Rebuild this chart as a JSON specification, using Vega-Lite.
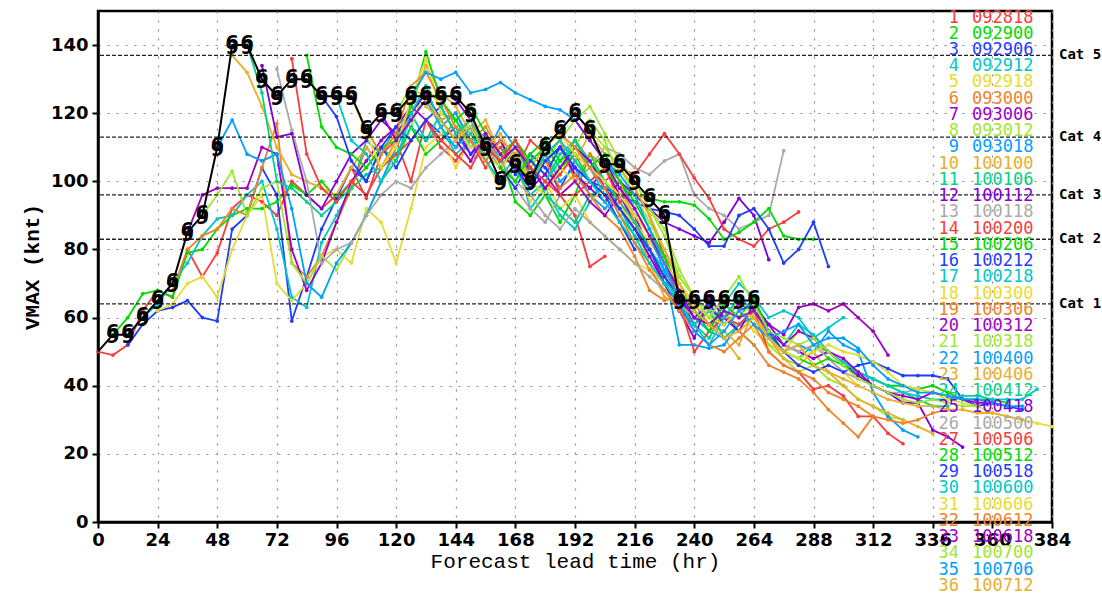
{
  "$schema": "https://vega.github.io/schema/vega-lite/v6.json",
  "width": 954,
  "height": 511,
  "autosize": {"type": "none"},
  "padding": {"left": 98, "top": 11, "right": 50, "bottom": 74},
  "background": "white",
  "config": {
    "view": {"stroke": "black", "strokeWidth": 2.5},
    "axis": {
      "domainColor": "black", "domainWidth": 2.5,
      "tickColor": "black", "tickWidth": 2, "tickSize": 6,
      "labelFont": "DejaVu Sans", "labelFontWeight": "bold", "labelFontSize": 18, "labelColor": "black",
      "grid": true, "gridColor": "#8a8a8a", "gridDash": [2, 7], "gridWidth": 1.2,
      "titleColor": "black", "titleFont": "Liberation Mono", "titleFontSize": 21
    }
  },
  "datasets": {
    "best": [
      {"t":0,"v":50},{"t":6,"v":55},{"t":12,"v":55},{"t":18,"v":60},{"t":24,"v":65},{"t":30,"v":70},{"t":36,"v":85},{"t":42,"v":90},{"t":48,"v":110},{"t":54,"v":140},{"t":60,"v":140},{"t":66,"v":130},{"t":72,"v":125},{"t":78,"v":130},{"t":84,"v":130},{"t":90,"v":125},{"t":96,"v":125},{"t":102,"v":125},{"t":108,"v":115},{"t":114,"v":120},{"t":120,"v":120},{"t":126,"v":125},{"t":132,"v":125},{"t":138,"v":125},{"t":144,"v":125},{"t":150,"v":120},{"t":156,"v":110},{"t":162,"v":100},{"t":168,"v":105},{"t":174,"v":100},{"t":180,"v":110},{"t":186,"v":115},{"t":192,"v":120},{"t":198,"v":115},{"t":204,"v":105},{"t":210,"v":105},{"t":216,"v":100},{"t":222,"v":95},{"t":228,"v":90},{"t":234,"v":65},{"t":240,"v":65},{"t":246,"v":65},{"t":252,"v":65},{"t":258,"v":65},{"t":264,"v":65}
    ],
    "cats": [
      {"c":"Cat 1","v":64},{"c":"Cat 2","v":83},{"c":"Cat 3","v":96},{"c":"Cat 4","v":113},{"c":"Cat 5","v":137}
    ],
    "members": [
      {"r":1,"d":"092818"},{"r":2,"d":"092900"},{"r":3,"d":"092906"},{"r":4,"d":"092912"},{"r":5,"d":"092918"},{"r":6,"d":"093000"},{"r":7,"d":"093006"},{"r":8,"d":"093012"},{"r":9,"d":"093018"},{"r":10,"d":"100100"},{"r":11,"d":"100106"},{"r":12,"d":"100112"},{"r":13,"d":"100118"},{"r":14,"d":"100200"},{"r":15,"d":"100206"},{"r":16,"d":"100212"},{"r":17,"d":"100218"},{"r":18,"d":"100300"},{"r":19,"d":"100306"},{"r":20,"d":"100312"},{"r":21,"d":"100318"},{"r":22,"d":"100400"},{"r":23,"d":"100406"},{"r":24,"d":"100412"},{"r":25,"d":"100418"},{"r":26,"d":"100500"},{"r":27,"d":"100506"},{"r":28,"d":"100512"},{"r":29,"d":"100518"},{"r":30,"d":"100600"},{"r":31,"d":"100606"},{"r":32,"d":"100612"},{"r":33,"d":"100618"},{"r":34,"d":"100700"},{"r":35,"d":"100706"},{"r":36,"d":"100712"}
    ],
    "runs": [
      {"r":1,"t":0,"v":50},{"r":1,"t":6,"v":49},{"r":1,"t":12,"v":52},{"r":1,"t":18,"v":62},{"r":1,"t":24,"v":68},{"r":1,"t":30,"v":66},{"r":1,"t":36,"v":80},{"r":1,"t":42,"v":72},{"r":1,"t":48,"v":79},{"r":1,"t":54,"v":92},{"r":1,"t":60,"v":96},{"r":1,"t":66,"v":94},{"r":1,"t":72,"v":90},{"r":1,"t":78,"v":100},{"r":1,"t":84,"v":96},{"r":1,"t":90,"v":92},{"r":1,"t":96,"v":96},{"r":1,"t":102,"v":104},{"r":1,"t":108,"v":95},{"r":1,"t":114,"v":108},{"r":1,"t":120,"v":112},{"r":1,"t":126,"v":100},{"r":1,"t":132,"v":118},{"r":1,"t":138,"v":110},{"r":1,"t":144,"v":106},{"r":1,"t":150,"v":112},{"r":1,"t":156,"v":104},{"r":1,"t":162,"v":110},{"r":1,"t":168,"v":103},{"r":1,"t":174,"v":112},{"r":1,"t":180,"v":108},{"r":1,"t":186,"v":96},{"r":1,"t":192,"v":90},{"r":1,"t":198,"v":75},{"r":1,"t":204,"v":78},
      {"r":2,"t":6,"v":55},{"r":2,"t":12,"v":60},{"r":2,"t":18,"v":67},{"r":2,"t":24,"v":68},{"r":2,"t":30,"v":66},{"r":2,"t":36,"v":79},{"r":2,"t":42,"v":80},{"r":2,"t":48,"v":86},{"r":2,"t":54,"v":90},{"r":2,"t":60,"v":92},{"r":2,"t":66,"v":92},{"r":2,"t":72,"v":94},{"r":2,"t":78,"v":99},{"r":2,"t":84,"v":96},{"r":2,"t":90,"v":100},{"r":2,"t":96,"v":95},{"r":2,"t":102,"v":100},{"r":2,"t":108,"v":104},{"r":2,"t":114,"v":110},{"r":2,"t":120,"v":106},{"r":2,"t":126,"v":116},{"r":2,"t":132,"v":108},{"r":2,"t":138,"v":112},{"r":2,"t":144,"v":118},{"r":2,"t":150,"v":112},{"r":2,"t":156,"v":114},{"r":2,"t":162,"v":108},{"r":2,"t":168,"v":94},{"r":2,"t":174,"v":90},{"r":2,"t":180,"v":96},{"r":2,"t":186,"v":88},{"r":2,"t":192,"v":96},{"r":2,"t":198,"v":108},{"r":2,"t":204,"v":100},{"r":2,"t":210,"v":92},
      {"r":3,"t":12,"v":52},{"r":3,"t":18,"v":58},{"r":3,"t":24,"v":62},{"r":3,"t":30,"v":63},{"r":3,"t":36,"v":65},{"r":3,"t":42,"v":60},{"r":3,"t":48,"v":59},{"r":3,"t":54,"v":86},{"r":3,"t":60,"v":90},{"r":3,"t":66,"v":104},{"r":3,"t":72,"v":96},{"r":3,"t":78,"v":59},{"r":3,"t":84,"v":72},{"r":3,"t":90,"v":86},{"r":3,"t":96,"v":95},{"r":3,"t":102,"v":104},{"r":3,"t":108,"v":100},{"r":3,"t":114,"v":110},{"r":3,"t":120,"v":104},{"r":3,"t":126,"v":112},{"r":3,"t":132,"v":118},{"r":3,"t":138,"v":114},{"r":3,"t":144,"v":110},{"r":3,"t":150,"v":116},{"r":3,"t":156,"v":106},{"r":3,"t":162,"v":112},{"r":3,"t":168,"v":102},{"r":3,"t":174,"v":108},{"r":3,"t":180,"v":104},{"r":3,"t":186,"v":98},{"r":3,"t":192,"v":106},{"r":3,"t":198,"v":100},{"r":3,"t":204,"v":96},{"r":3,"t":210,"v":88},{"r":3,"t":216,"v":80},
      {"r":4,"t":18,"v":60},{"r":4,"t":24,"v":64},{"r":4,"t":30,"v":70},{"r":4,"t":36,"v":76},{"r":4,"t":42,"v":84},{"r":4,"t":48,"v":89},{"r":4,"t":54,"v":90},{"r":4,"t":60,"v":96},{"r":4,"t":66,"v":100},{"r":4,"t":72,"v":86},{"r":4,"t":78,"v":66},{"r":4,"t":84,"v":63},{"r":4,"t":90,"v":82},{"r":4,"t":96,"v":90},{"r":4,"t":102,"v":98},{"r":4,"t":108,"v":112},{"r":4,"t":114,"v":108},{"r":4,"t":120,"v":116},{"r":4,"t":126,"v":120},{"r":4,"t":132,"v":112},{"r":4,"t":138,"v":116},{"r":4,"t":144,"v":108},{"r":4,"t":150,"v":112},{"r":4,"t":156,"v":106},{"r":4,"t":162,"v":100},{"r":4,"t":168,"v":108},{"r":4,"t":174,"v":92},{"r":4,"t":180,"v":98},{"r":4,"t":186,"v":90},{"r":4,"t":192,"v":86},{"r":4,"t":198,"v":94},{"r":4,"t":204,"v":100},{"r":4,"t":210,"v":92},{"r":4,"t":216,"v":86},{"r":4,"t":222,"v":82},
      {"r":5,"t":24,"v":62},{"r":5,"t":30,"v":64},{"r":5,"t":36,"v":70},{"r":5,"t":42,"v":72},{"r":5,"t":48,"v":66},{"r":5,"t":54,"v":80},{"r":5,"t":60,"v":90},{"r":5,"t":66,"v":96},{"r":5,"t":72,"v":70},{"r":5,"t":78,"v":65},{"r":5,"t":84,"v":70},{"r":5,"t":90,"v":78},{"r":5,"t":96,"v":80},{"r":5,"t":102,"v":76},{"r":5,"t":108,"v":92},{"r":5,"t":114,"v":88},{"r":5,"t":120,"v":76},{"r":5,"t":126,"v":92},{"r":5,"t":132,"v":110},{"r":5,"t":138,"v":114},{"r":5,"t":144,"v":104},{"r":5,"t":150,"v":112},{"r":5,"t":156,"v":106},{"r":5,"t":162,"v":98},{"r":5,"t":168,"v":104},{"r":5,"t":174,"v":94},{"r":5,"t":180,"v":100},{"r":5,"t":186,"v":92},{"r":5,"t":192,"v":96},{"r":5,"t":198,"v":88},{"r":5,"t":204,"v":84},{"r":5,"t":210,"v":80},{"r":5,"t":216,"v":76},{"r":5,"t":222,"v":74},{"r":5,"t":228,"v":70},
      {"r":6,"t":30,"v":68},{"r":6,"t":36,"v":80},{"r":6,"t":42,"v":84},{"r":6,"t":48,"v":86},{"r":6,"t":54,"v":92},{"r":6,"t":60,"v":90},{"r":6,"t":66,"v":104},{"r":6,"t":72,"v":117},{"r":6,"t":78,"v":76},{"r":6,"t":84,"v":72},{"r":6,"t":90,"v":78},{"r":6,"t":96,"v":88},{"r":6,"t":102,"v":98},{"r":6,"t":108,"v":110},{"r":6,"t":114,"v":104},{"r":6,"t":120,"v":112},{"r":6,"t":126,"v":120},{"r":6,"t":132,"v":126},{"r":6,"t":138,"v":118},{"r":6,"t":144,"v":120},{"r":6,"t":150,"v":112},{"r":6,"t":156,"v":116},{"r":6,"t":162,"v":108},{"r":6,"t":168,"v":112},{"r":6,"t":174,"v":102},{"r":6,"t":180,"v":108},{"r":6,"t":186,"v":112},{"r":6,"t":192,"v":100},{"r":6,"t":198,"v":108},{"r":6,"t":204,"v":104},{"r":6,"t":210,"v":98},{"r":6,"t":216,"v":90},{"r":6,"t":222,"v":84},{"r":6,"t":228,"v":78},{"r":6,"t":234,"v":72},
      {"r":7,"t":36,"v":85},{"r":7,"t":42,"v":96},{"r":7,"t":48,"v":98},{"r":7,"t":54,"v":98},{"r":7,"t":60,"v":98},{"r":7,"t":66,"v":110},{"r":7,"t":72,"v":108},{"r":7,"t":78,"v":80},{"r":7,"t":84,"v":68},{"r":7,"t":90,"v":76},{"r":7,"t":96,"v":88},{"r":7,"t":102,"v":100},{"r":7,"t":108,"v":106},{"r":7,"t":114,"v":112},{"r":7,"t":120,"v":116},{"r":7,"t":126,"v":122},{"r":7,"t":132,"v":118},{"r":7,"t":138,"v":112},{"r":7,"t":144,"v":116},{"r":7,"t":150,"v":108},{"r":7,"t":156,"v":114},{"r":7,"t":162,"v":104},{"r":7,"t":168,"v":110},{"r":7,"t":174,"v":100},{"r":7,"t":180,"v":106},{"r":7,"t":186,"v":110},{"r":7,"t":192,"v":102},{"r":7,"t":198,"v":98},{"r":7,"t":204,"v":104},{"r":7,"t":210,"v":96},{"r":7,"t":216,"v":90},{"r":7,"t":222,"v":80},{"r":7,"t":228,"v":70},{"r":7,"t":234,"v":62},{"r":7,"t":240,"v":58},
      {"r":8,"t":42,"v":90},{"r":8,"t":48,"v":96},{"r":8,"t":54,"v":103},{"r":8,"t":60,"v":90},{"r":8,"t":66,"v":98},{"r":8,"t":72,"v":100},{"r":8,"t":78,"v":76},{"r":8,"t":84,"v":70},{"r":8,"t":90,"v":78},{"r":8,"t":96,"v":74},{"r":8,"t":102,"v":82},{"r":8,"t":108,"v":90},{"r":8,"t":114,"v":100},{"r":8,"t":120,"v":108},{"r":8,"t":126,"v":116},{"r":8,"t":132,"v":128},{"r":8,"t":138,"v":122},{"r":8,"t":144,"v":114},{"r":8,"t":150,"v":118},{"r":8,"t":156,"v":106},{"r":8,"t":162,"v":112},{"r":8,"t":168,"v":104},{"r":8,"t":174,"v":98},{"r":8,"t":180,"v":108},{"r":8,"t":186,"v":102},{"r":8,"t":192,"v":110},{"r":8,"t":198,"v":118},{"r":8,"t":204,"v":112},{"r":8,"t":210,"v":100},{"r":8,"t":216,"v":96},{"r":8,"t":222,"v":92},{"r":8,"t":228,"v":84},{"r":8,"t":234,"v":72},{"r":8,"t":240,"v":66},{"r":8,"t":246,"v":62},
      {"r":9,"t":48,"v":110},{"r":9,"t":54,"v":118},{"r":9,"t":60,"v":108},{"r":9,"t":66,"v":106},{"r":9,"t":72,"v":108},{"r":9,"t":78,"v":92},{"r":9,"t":84,"v":70},{"r":9,"t":90,"v":66},{"r":9,"t":96,"v":76},{"r":9,"t":102,"v":82},{"r":9,"t":108,"v":90},{"r":9,"t":114,"v":100},{"r":9,"t":120,"v":110},{"r":9,"t":126,"v":118},{"r":9,"t":132,"v":124},{"r":9,"t":138,"v":116},{"r":9,"t":144,"v":120},{"r":9,"t":150,"v":112},{"r":9,"t":156,"v":108},{"r":9,"t":162,"v":116},{"r":9,"t":168,"v":110},{"r":9,"t":174,"v":102},{"r":9,"t":180,"v":108},{"r":9,"t":186,"v":100},{"r":9,"t":192,"v":104},{"r":9,"t":198,"v":96},{"r":9,"t":204,"v":92},{"r":9,"t":210,"v":96},{"r":9,"t":216,"v":88},{"r":9,"t":222,"v":80},{"r":9,"t":228,"v":74},{"r":9,"t":234,"v":66},{"r":9,"t":240,"v":60},{"r":9,"t":246,"v":56},{"r":9,"t":252,"v":54},
      {"r":10,"t":54,"v":137},{"r":10,"t":60,"v":132},{"r":10,"t":66,"v":122},{"r":10,"t":72,"v":110},{"r":10,"t":78,"v":102},{"r":10,"t":84,"v":100},{"r":10,"t":90,"v":98},{"r":10,"t":96,"v":96},{"r":10,"t":102,"v":104},{"r":10,"t":108,"v":110},{"r":10,"t":114,"v":104},{"r":10,"t":120,"v":112},{"r":10,"t":126,"v":122},{"r":10,"t":132,"v":134},{"r":10,"t":138,"v":126},{"r":10,"t":144,"v":122},{"r":10,"t":150,"v":114},{"r":10,"t":156,"v":118},{"r":10,"t":162,"v":108},{"r":10,"t":168,"v":112},{"r":10,"t":174,"v":104},{"r":10,"t":180,"v":110},{"r":10,"t":186,"v":104},{"r":10,"t":192,"v":112},{"r":10,"t":198,"v":106},{"r":10,"t":204,"v":100},{"r":10,"t":210,"v":94},{"r":10,"t":216,"v":86},{"r":10,"t":222,"v":80},{"r":10,"t":228,"v":72},{"r":10,"t":234,"v":68},{"r":10,"t":240,"v":62},{"r":10,"t":246,"v":58},{"r":10,"t":252,"v":54},{"r":10,"t":258,"v":48},
      {"r":11,"t":60,"v":140},{"r":11,"t":66,"v":126},{"r":11,"t":72,"v":100},{"r":11,"t":78,"v":98},{"r":11,"t":84,"v":94},{"r":11,"t":90,"v":90},{"r":11,"t":96,"v":94},{"r":11,"t":102,"v":98},{"r":11,"t":108,"v":102},{"r":11,"t":114,"v":104},{"r":11,"t":120,"v":108},{"r":11,"t":126,"v":116},{"r":11,"t":132,"v":112},{"r":11,"t":138,"v":120},{"r":11,"t":144,"v":118},{"r":11,"t":150,"v":110},{"r":11,"t":156,"v":114},{"r":11,"t":162,"v":106},{"r":11,"t":168,"v":100},{"r":11,"t":174,"v":108},{"r":11,"t":180,"v":96},{"r":11,"t":186,"v":92},{"r":11,"t":192,"v":88},{"r":11,"t":198,"v":96},{"r":11,"t":204,"v":98},{"r":11,"t":210,"v":90},{"r":11,"t":216,"v":84},{"r":11,"t":222,"v":76},{"r":11,"t":228,"v":70},{"r":11,"t":234,"v":64},{"r":11,"t":240,"v":58},{"r":11,"t":246,"v":54},{"r":11,"t":252,"v":62},{"r":11,"t":258,"v":56},{"r":11,"t":264,"v":52},
      {"r":12,"t":66,"v":134},{"r":12,"t":72,"v":113},{"r":12,"t":78,"v":114},{"r":12,"t":84,"v":96},{"r":12,"t":90,"v":92},{"r":12,"t":96,"v":100},{"r":12,"t":102,"v":108},{"r":12,"t":108,"v":112},{"r":12,"t":114,"v":118},{"r":12,"t":120,"v":114},{"r":12,"t":126,"v":120},{"r":12,"t":132,"v":126},{"r":12,"t":138,"v":118},{"r":12,"t":144,"v":112},{"r":12,"t":150,"v":116},{"r":12,"t":156,"v":108},{"r":12,"t":162,"v":112},{"r":12,"t":168,"v":104},{"r":12,"t":174,"v":100},{"r":12,"t":180,"v":106},{"r":12,"t":186,"v":110},{"r":12,"t":192,"v":102},{"r":12,"t":198,"v":98},{"r":12,"t":204,"v":94},{"r":12,"t":210,"v":100},{"r":12,"t":216,"v":96},{"r":12,"t":222,"v":92},{"r":12,"t":228,"v":88},{"r":12,"t":234,"v":86},{"r":12,"t":240,"v":84},{"r":12,"t":246,"v":82},{"r":12,"t":252,"v":88},{"r":12,"t":258,"v":95},{"r":12,"t":264,"v":90},{"r":12,"t":270,"v":77},
      {"r":13,"t":72,"v":133},{"r":13,"t":78,"v":115},{"r":13,"t":84,"v":100},{"r":13,"t":90,"v":76},{"r":13,"t":96,"v":80},{"r":13,"t":102,"v":82},{"r":13,"t":108,"v":90},{"r":13,"t":114,"v":96},{"r":13,"t":120,"v":100},{"r":13,"t":126,"v":98},{"r":13,"t":132,"v":104},{"r":13,"t":138,"v":108},{"r":13,"t":144,"v":112},{"r":13,"t":150,"v":106},{"r":13,"t":156,"v":110},{"r":13,"t":162,"v":104},{"r":13,"t":168,"v":98},{"r":13,"t":174,"v":92},{"r":13,"t":180,"v":88},{"r":13,"t":186,"v":96},{"r":13,"t":192,"v":100},{"r":13,"t":198,"v":104},{"r":13,"t":204,"v":110},{"r":13,"t":210,"v":108},{"r":13,"t":216,"v":104},{"r":13,"t":222,"v":102},{"r":13,"t":228,"v":106},{"r":13,"t":234,"v":108},{"r":13,"t":240,"v":96},{"r":13,"t":246,"v":92},{"r":13,"t":252,"v":90},{"r":13,"t":258,"v":86},{"r":13,"t":264,"v":88},{"r":13,"t":270,"v":90},{"r":13,"t":276,"v":109},
      {"r":14,"t":78,"v":136},{"r":14,"t":84,"v":108},{"r":14,"t":90,"v":98},{"r":14,"t":96,"v":94},{"r":14,"t":102,"v":100},{"r":14,"t":108,"v":96},{"r":14,"t":114,"v":104},{"r":14,"t":120,"v":108},{"r":14,"t":126,"v":112},{"r":14,"t":132,"v":118},{"r":14,"t":138,"v":112},{"r":14,"t":144,"v":108},{"r":14,"t":150,"v":104},{"r":14,"t":156,"v":112},{"r":14,"t":162,"v":106},{"r":14,"t":168,"v":110},{"r":14,"t":174,"v":104},{"r":14,"t":180,"v":98},{"r":14,"t":186,"v":102},{"r":14,"t":192,"v":108},{"r":14,"t":198,"v":104},{"r":14,"t":204,"v":100},{"r":14,"t":210,"v":104},{"r":14,"t":216,"v":102},{"r":14,"t":222,"v":108},{"r":14,"t":228,"v":114},{"r":14,"t":234,"v":108},{"r":14,"t":240,"v":101},{"r":14,"t":246,"v":95},{"r":14,"t":252,"v":86},{"r":14,"t":258,"v":83},{"r":14,"t":264,"v":81},{"r":14,"t":270,"v":86},{"r":14,"t":276,"v":88},{"r":14,"t":282,"v":91},
      {"r":15,"t":84,"v":137},{"r":15,"t":90,"v":116},{"r":15,"t":96,"v":110},{"r":15,"t":102,"v":108},{"r":15,"t":108,"v":104},{"r":15,"t":114,"v":110},{"r":15,"t":120,"v":112},{"r":15,"t":126,"v":122},{"r":15,"t":132,"v":138},{"r":15,"t":138,"v":124},{"r":15,"t":144,"v":118},{"r":15,"t":150,"v":122},{"r":15,"t":156,"v":114},{"r":15,"t":162,"v":108},{"r":15,"t":168,"v":112},{"r":15,"t":174,"v":106},{"r":15,"t":180,"v":110},{"r":15,"t":186,"v":104},{"r":15,"t":192,"v":108},{"r":15,"t":198,"v":100},{"r":15,"t":204,"v":104},{"r":15,"t":210,"v":98},{"r":15,"t":216,"v":96},{"r":15,"t":222,"v":95},{"r":15,"t":228,"v":94},{"r":15,"t":234,"v":94},{"r":15,"t":240,"v":93},{"r":15,"t":246,"v":89},{"r":15,"t":252,"v":83},{"r":15,"t":258,"v":85},{"r":15,"t":264,"v":88},{"r":15,"t":270,"v":92},{"r":15,"t":276,"v":84},{"r":15,"t":282,"v":83},{"r":15,"t":288,"v":83},
      {"r":16,"t":90,"v":125},{"r":16,"t":96,"v":119},{"r":16,"t":102,"v":106},{"r":16,"t":108,"v":100},{"r":16,"t":114,"v":110},{"r":16,"t":120,"v":116},{"r":16,"t":126,"v":112},{"r":16,"t":132,"v":118},{"r":16,"t":138,"v":122},{"r":16,"t":144,"v":114},{"r":16,"t":150,"v":108},{"r":16,"t":156,"v":112},{"r":16,"t":162,"v":104},{"r":16,"t":168,"v":98},{"r":16,"t":174,"v":106},{"r":16,"t":180,"v":102},{"r":16,"t":186,"v":110},{"r":16,"t":192,"v":104},{"r":16,"t":198,"v":100},{"r":16,"t":204,"v":98},{"r":16,"t":210,"v":96},{"r":16,"t":216,"v":94},{"r":16,"t":222,"v":92},{"r":16,"t":228,"v":91},{"r":16,"t":234,"v":90},{"r":16,"t":240,"v":86},{"r":16,"t":246,"v":81},{"r":16,"t":252,"v":81},{"r":16,"t":258,"v":90},{"r":16,"t":264,"v":92},{"r":16,"t":270,"v":86},{"r":16,"t":276,"v":76},{"r":16,"t":282,"v":80},{"r":16,"t":288,"v":88},{"r":16,"t":294,"v":75},
      {"r":17,"t":96,"v":125},{"r":17,"t":102,"v":112},{"r":17,"t":108,"v":108},{"r":17,"t":114,"v":100},{"r":17,"t":120,"v":106},{"r":17,"t":126,"v":120},{"r":17,"t":132,"v":128},{"r":17,"t":138,"v":116},{"r":17,"t":144,"v":110},{"r":17,"t":150,"v":114},{"r":17,"t":156,"v":106},{"r":17,"t":162,"v":100},{"r":17,"t":168,"v":104},{"r":17,"t":174,"v":96},{"r":17,"t":180,"v":100},{"r":17,"t":186,"v":106},{"r":17,"t":192,"v":112},{"r":17,"t":198,"v":104},{"r":17,"t":204,"v":96},{"r":17,"t":210,"v":92},{"r":17,"t":216,"v":84},{"r":17,"t":222,"v":80},{"r":17,"t":228,"v":74},{"r":17,"t":234,"v":68},{"r":17,"t":240,"v":62},{"r":17,"t":246,"v":58},{"r":17,"t":252,"v":64},{"r":17,"t":258,"v":70},{"r":17,"t":264,"v":66},{"r":17,"t":270,"v":60},{"r":17,"t":276,"v":62},{"r":17,"t":282,"v":60},{"r":17,"t":288,"v":54},{"r":17,"t":294,"v":57},{"r":17,"t":300,"v":60},
      {"r":18,"t":102,"v":125},{"r":18,"t":108,"v":114},{"r":18,"t":114,"v":104},{"r":18,"t":120,"v":110},{"r":18,"t":126,"v":124},{"r":18,"t":132,"v":136},{"r":18,"t":138,"v":120},{"r":18,"t":144,"v":116},{"r":18,"t":150,"v":110},{"r":18,"t":156,"v":112},{"r":18,"t":162,"v":104},{"r":18,"t":168,"v":108},{"r":18,"t":174,"v":100},{"r":18,"t":180,"v":96},{"r":18,"t":186,"v":104},{"r":18,"t":192,"v":100},{"r":18,"t":198,"v":94},{"r":18,"t":204,"v":98},{"r":18,"t":210,"v":92},{"r":18,"t":216,"v":88},{"r":18,"t":222,"v":82},{"r":18,"t":228,"v":76},{"r":18,"t":234,"v":70},{"r":18,"t":240,"v":64},{"r":18,"t":246,"v":60},{"r":18,"t":252,"v":58},{"r":18,"t":258,"v":62},{"r":18,"t":264,"v":56},{"r":18,"t":270,"v":52},{"r":18,"t":276,"v":50},{"r":18,"t":282,"v":56},{"r":18,"t":288,"v":54},{"r":18,"t":294,"v":48},{"r":18,"t":300,"v":44},{"r":18,"t":306,"v":40},
      {"r":19,"t":108,"v":115},{"r":19,"t":114,"v":108},{"r":19,"t":120,"v":114},{"r":19,"t":126,"v":128},{"r":19,"t":132,"v":132},{"r":19,"t":138,"v":124},{"r":19,"t":144,"v":116},{"r":19,"t":150,"v":112},{"r":19,"t":156,"v":106},{"r":19,"t":162,"v":112},{"r":19,"t":168,"v":108},{"r":19,"t":174,"v":102},{"r":19,"t":180,"v":106},{"r":19,"t":186,"v":98},{"r":19,"t":192,"v":102},{"r":19,"t":198,"v":96},{"r":19,"t":204,"v":90},{"r":19,"t":210,"v":86},{"r":19,"t":216,"v":78},{"r":19,"t":222,"v":68},{"r":19,"t":228,"v":65},{"r":19,"t":234,"v":66},{"r":19,"t":240,"v":64},{"r":19,"t":246,"v":58},{"r":19,"t":252,"v":60},{"r":19,"t":258,"v":56},{"r":19,"t":264,"v":52},{"r":19,"t":270,"v":46},{"r":19,"t":276,"v":44},{"r":19,"t":282,"v":42},{"r":19,"t":288,"v":38},{"r":19,"t":294,"v":33},{"r":19,"t":300,"v":29},{"r":19,"t":306,"v":25},{"r":19,"t":312,"v":31},
      {"r":20,"t":114,"v":120},{"r":20,"t":120,"v":112},{"r":20,"t":126,"v":118},{"r":20,"t":132,"v":124},{"r":20,"t":138,"v":118},{"r":20,"t":144,"v":112},{"r":20,"t":150,"v":106},{"r":20,"t":156,"v":114},{"r":20,"t":162,"v":108},{"r":20,"t":168,"v":104},{"r":20,"t":174,"v":98},{"r":20,"t":180,"v":102},{"r":20,"t":186,"v":96},{"r":20,"t":192,"v":100},{"r":20,"t":198,"v":94},{"r":20,"t":204,"v":90},{"r":20,"t":210,"v":96},{"r":20,"t":216,"v":88},{"r":20,"t":222,"v":80},{"r":20,"t":228,"v":72},{"r":20,"t":234,"v":66},{"r":20,"t":240,"v":58},{"r":20,"t":246,"v":62},{"r":20,"t":252,"v":60},{"r":20,"t":258,"v":64},{"r":20,"t":264,"v":62},{"r":20,"t":270,"v":58},{"r":20,"t":276,"v":55},{"r":20,"t":282,"v":63},{"r":20,"t":288,"v":64},{"r":20,"t":294,"v":62},{"r":20,"t":300,"v":64},{"r":20,"t":306,"v":60},{"r":20,"t":312,"v":56},{"r":20,"t":318,"v":49},
      {"r":21,"t":120,"v":120},{"r":21,"t":126,"v":128},{"r":21,"t":132,"v":124},{"r":21,"t":138,"v":118},{"r":21,"t":144,"v":112},{"r":21,"t":150,"v":116},{"r":21,"t":156,"v":108},{"r":21,"t":162,"v":104},{"r":21,"t":168,"v":110},{"r":21,"t":174,"v":100},{"r":21,"t":180,"v":106},{"r":21,"t":186,"v":112},{"r":21,"t":192,"v":118},{"r":21,"t":198,"v":122},{"r":21,"t":204,"v":114},{"r":21,"t":210,"v":106},{"r":21,"t":216,"v":100},{"r":21,"t":222,"v":92},{"r":21,"t":228,"v":86},{"r":21,"t":234,"v":74},{"r":21,"t":240,"v":66},{"r":21,"t":246,"v":62},{"r":21,"t":252,"v":58},{"r":21,"t":258,"v":66},{"r":21,"t":264,"v":60},{"r":21,"t":270,"v":52},{"r":21,"t":276,"v":48},{"r":21,"t":282,"v":44},{"r":21,"t":288,"v":46},{"r":21,"t":294,"v":42},{"r":21,"t":300,"v":40},{"r":21,"t":306,"v":36},{"r":21,"t":312,"v":34},{"r":21,"t":318,"v":31},{"r":21,"t":324,"v":30},
      {"r":22,"t":126,"v":125},{"r":22,"t":132,"v":132},{"r":22,"t":138,"v":130},{"r":22,"t":144,"v":132},{"r":22,"t":150,"v":126},{"r":22,"t":156,"v":127},{"r":22,"t":162,"v":129},{"r":22,"t":168,"v":126},{"r":22,"t":174,"v":124},{"r":22,"t":180,"v":122},{"r":22,"t":186,"v":121},{"r":22,"t":192,"v":118},{"r":22,"t":198,"v":112},{"r":22,"t":204,"v":106},{"r":22,"t":210,"v":100},{"r":22,"t":216,"v":92},{"r":22,"t":222,"v":84},{"r":22,"t":228,"v":74},{"r":22,"t":234,"v":52},{"r":22,"t":240,"v":52},{"r":22,"t":246,"v":51},{"r":22,"t":252,"v":52},{"r":22,"t":258,"v":58},{"r":22,"t":264,"v":62},{"r":22,"t":270,"v":55},{"r":22,"t":276,"v":50},{"r":22,"t":282,"v":52},{"r":22,"t":288,"v":50},{"r":22,"t":294,"v":56},{"r":22,"t":300,"v":52},{"r":22,"t":306,"v":50},{"r":22,"t":312,"v":38},{"r":22,"t":318,"v":31},{"r":22,"t":324,"v":27},{"r":22,"t":330,"v":25},
      {"r":23,"t":132,"v":122},{"r":23,"t":138,"v":118},{"r":23,"t":144,"v":112},{"r":23,"t":150,"v":118},{"r":23,"t":156,"v":110},{"r":23,"t":162,"v":114},{"r":23,"t":168,"v":106},{"r":23,"t":174,"v":100},{"r":23,"t":180,"v":108},{"r":23,"t":186,"v":112},{"r":23,"t":192,"v":106},{"r":23,"t":198,"v":114},{"r":23,"t":204,"v":108},{"r":23,"t":210,"v":100},{"r":23,"t":216,"v":88},{"r":23,"t":222,"v":76},{"r":23,"t":228,"v":66},{"r":23,"t":234,"v":64},{"r":23,"t":240,"v":60},{"r":23,"t":246,"v":58},{"r":23,"t":252,"v":56},{"r":23,"t":258,"v":52},{"r":23,"t":264,"v":62},{"r":23,"t":270,"v":54},{"r":23,"t":276,"v":48},{"r":23,"t":282,"v":46},{"r":23,"t":288,"v":50},{"r":23,"t":294,"v":44},{"r":23,"t":300,"v":40},{"r":23,"t":306,"v":36},{"r":23,"t":312,"v":34},{"r":23,"t":318,"v":32},{"r":23,"t":324,"v":30},{"r":23,"t":330,"v":28},{"r":23,"t":336,"v":26},
      {"r":24,"t":138,"v":122},{"r":24,"t":144,"v":114},{"r":24,"t":150,"v":118},{"r":24,"t":156,"v":110},{"r":24,"t":162,"v":106},{"r":24,"t":168,"v":112},{"r":24,"t":174,"v":104},{"r":24,"t":180,"v":100},{"r":24,"t":186,"v":108},{"r":24,"t":192,"v":112},{"r":24,"t":198,"v":106},{"r":24,"t":204,"v":100},{"r":24,"t":210,"v":94},{"r":24,"t":216,"v":88},{"r":24,"t":222,"v":80},{"r":24,"t":228,"v":72},{"r":24,"t":234,"v":64},{"r":24,"t":240,"v":58},{"r":24,"t":246,"v":62},{"r":24,"t":252,"v":54},{"r":24,"t":258,"v":58},{"r":24,"t":264,"v":60},{"r":24,"t":270,"v":54},{"r":24,"t":276,"v":50},{"r":24,"t":282,"v":48},{"r":24,"t":288,"v":52},{"r":24,"t":294,"v":50},{"r":24,"t":300,"v":46},{"r":24,"t":306,"v":44},{"r":24,"t":312,"v":42},{"r":24,"t":318,"v":40},{"r":24,"t":324,"v":38},{"r":24,"t":330,"v":36},{"r":24,"t":336,"v":34},{"r":24,"t":342,"v":34},
      {"r":25,"t":144,"v":124},{"r":25,"t":150,"v":118},{"r":25,"t":156,"v":112},{"r":25,"t":162,"v":106},{"r":25,"t":168,"v":110},{"r":25,"t":174,"v":104},{"r":25,"t":180,"v":98},{"r":25,"t":186,"v":104},{"r":25,"t":192,"v":110},{"r":25,"t":198,"v":106},{"r":25,"t":204,"v":98},{"r":25,"t":210,"v":92},{"r":25,"t":216,"v":86},{"r":25,"t":222,"v":78},{"r":25,"t":228,"v":70},{"r":25,"t":234,"v":62},{"r":25,"t":240,"v":54},{"r":25,"t":246,"v":66},{"r":25,"t":252,"v":60},{"r":25,"t":258,"v":56},{"r":25,"t":264,"v":64},{"r":25,"t":270,"v":58},{"r":25,"t":276,"v":52},{"r":25,"t":282,"v":50},{"r":25,"t":288,"v":48},{"r":25,"t":294,"v":50},{"r":25,"t":300,"v":46},{"r":25,"t":306,"v":43},{"r":25,"t":312,"v":40},{"r":25,"t":318,"v":38},{"r":25,"t":324,"v":35},{"r":25,"t":330,"v":35},{"r":25,"t":336,"v":27},{"r":25,"t":342,"v":25},{"r":25,"t":348,"v":22},
      {"r":26,"t":150,"v":118},{"r":26,"t":156,"v":112},{"r":26,"t":162,"v":106},{"r":26,"t":168,"v":100},{"r":26,"t":174,"v":96},{"r":26,"t":180,"v":90},{"r":26,"t":186,"v":86},{"r":26,"t":192,"v":92},{"r":26,"t":198,"v":88},{"r":26,"t":204,"v":84},{"r":26,"t":210,"v":80},{"r":26,"t":216,"v":76},{"r":26,"t":222,"v":72},{"r":26,"t":228,"v":68},{"r":26,"t":234,"v":64},{"r":26,"t":240,"v":66},{"r":26,"t":246,"v":62},{"r":26,"t":252,"v":64},{"r":26,"t":258,"v":60},{"r":26,"t":264,"v":62},{"r":26,"t":270,"v":56},{"r":26,"t":276,"v":52},{"r":26,"t":282,"v":50},{"r":26,"t":288,"v":52},{"r":26,"t":294,"v":48},{"r":26,"t":300,"v":44},{"r":26,"t":306,"v":42},{"r":26,"t":312,"v":40},{"r":26,"t":318,"v":38},{"r":26,"t":324,"v":38},{"r":26,"t":330,"v":39},{"r":26,"t":336,"v":40},{"r":26,"t":342,"v":38},{"r":26,"t":348,"v":36},{"r":26,"t":354,"v":36},
      {"r":27,"t":156,"v":110},{"r":27,"t":162,"v":106},{"r":27,"t":168,"v":112},{"r":27,"t":174,"v":104},{"r":27,"t":180,"v":100},{"r":27,"t":186,"v":96},{"r":27,"t":192,"v":96},{"r":27,"t":198,"v":100},{"r":27,"t":204,"v":104},{"r":27,"t":210,"v":94},{"r":27,"t":216,"v":98},{"r":27,"t":222,"v":90},{"r":27,"t":228,"v":78},{"r":27,"t":234,"v":64},{"r":27,"t":240,"v":50},{"r":27,"t":246,"v":56},{"r":27,"t":252,"v":60},{"r":27,"t":258,"v":58},{"r":27,"t":264,"v":62},{"r":27,"t":270,"v":50},{"r":27,"t":276,"v":46},{"r":27,"t":282,"v":44},{"r":27,"t":288,"v":39},{"r":27,"t":294,"v":40},{"r":27,"t":300,"v":37},{"r":27,"t":306,"v":31},{"r":27,"t":312,"v":31},{"r":27,"t":318,"v":26},{"r":27,"t":324,"v":23},
      {"r":28,"t":162,"v":104},{"r":28,"t":168,"v":100},{"r":28,"t":174,"v":108},{"r":28,"t":180,"v":112},{"r":28,"t":186,"v":106},{"r":28,"t":192,"v":110},{"r":28,"t":198,"v":104},{"r":28,"t":204,"v":108},{"r":28,"t":210,"v":100},{"r":28,"t":216,"v":94},{"r":28,"t":222,"v":86},{"r":28,"t":228,"v":78},{"r":28,"t":234,"v":68},{"r":28,"t":240,"v":62},{"r":28,"t":246,"v":56},{"r":28,"t":252,"v":64},{"r":28,"t":258,"v":60},{"r":28,"t":264,"v":66},{"r":28,"t":270,"v":56},{"r":28,"t":276,"v":50},{"r":28,"t":282,"v":48},{"r":28,"t":288,"v":46},{"r":28,"t":294,"v":48},{"r":28,"t":300,"v":46},{"r":28,"t":306,"v":44},{"r":28,"t":312,"v":42},{"r":28,"t":318,"v":40},{"r":28,"t":324,"v":40},{"r":28,"t":330,"v":39},{"r":28,"t":336,"v":40},{"r":28,"t":342,"v":38},{"r":28,"t":348,"v":36},{"r":28,"t":354,"v":36},{"r":28,"t":360,"v":36},{"r":28,"t":366,"v":35},
      {"r":29,"t":168,"v":104},{"r":29,"t":174,"v":98},{"r":29,"t":180,"v":106},{"r":29,"t":186,"v":110},{"r":29,"t":192,"v":104},{"r":29,"t":198,"v":100},{"r":29,"t":204,"v":96},{"r":29,"t":210,"v":92},{"r":29,"t":216,"v":86},{"r":29,"t":222,"v":80},{"r":29,"t":228,"v":72},{"r":29,"t":234,"v":66},{"r":29,"t":240,"v":60},{"r":29,"t":246,"v":64},{"r":29,"t":252,"v":58},{"r":29,"t":258,"v":62},{"r":29,"t":264,"v":64},{"r":29,"t":270,"v":56},{"r":29,"t":276,"v":50},{"r":29,"t":282,"v":46},{"r":29,"t":288,"v":44},{"r":29,"t":294,"v":46},{"r":29,"t":300,"v":44},{"r":29,"t":306,"v":46},{"r":29,"t":312,"v":47},{"r":29,"t":318,"v":45},{"r":29,"t":324,"v":43},{"r":29,"t":330,"v":43},{"r":29,"t":336,"v":43},{"r":29,"t":342,"v":42},{"r":29,"t":348,"v":36},{"r":29,"t":354,"v":34},{"r":29,"t":360,"v":35},{"r":29,"t":366,"v":34},{"r":29,"t":372,"v":33},
      {"r":30,"t":174,"v":100},{"r":30,"t":180,"v":108},{"r":30,"t":186,"v":112},{"r":30,"t":192,"v":106},{"r":30,"t":198,"v":100},{"r":30,"t":204,"v":94},{"r":30,"t":210,"v":88},{"r":30,"t":216,"v":82},{"r":30,"t":222,"v":76},{"r":30,"t":228,"v":70},{"r":30,"t":234,"v":64},{"r":30,"t":240,"v":58},{"r":30,"t":246,"v":52},{"r":30,"t":252,"v":60},{"r":30,"t":258,"v":66},{"r":30,"t":264,"v":62},{"r":30,"t":270,"v":56},{"r":30,"t":276,"v":52},{"r":30,"t":282,"v":58},{"r":30,"t":288,"v":55},{"r":30,"t":294,"v":50},{"r":30,"t":300,"v":47},{"r":30,"t":306,"v":44},{"r":30,"t":312,"v":42},{"r":30,"t":318,"v":40},{"r":30,"t":324,"v":38},{"r":30,"t":330,"v":37},{"r":30,"t":336,"v":36},{"r":30,"t":342,"v":36},{"r":30,"t":348,"v":37},{"r":30,"t":354,"v":37},{"r":30,"t":360,"v":36},{"r":30,"t":366,"v":36},{"r":30,"t":372,"v":36},{"r":30,"t":378,"v":39},
      {"r":31,"t":180,"v":110},{"r":31,"t":186,"v":114},{"r":31,"t":192,"v":108},{"r":31,"t":198,"v":104},{"r":31,"t":204,"v":100},{"r":31,"t":210,"v":96},{"r":31,"t":216,"v":90},{"r":31,"t":222,"v":84},{"r":31,"t":228,"v":76},{"r":31,"t":234,"v":70},{"r":31,"t":240,"v":64},{"r":31,"t":246,"v":60},{"r":31,"t":252,"v":58},{"r":31,"t":258,"v":62},{"r":31,"t":264,"v":60},{"r":31,"t":270,"v":54},{"r":31,"t":276,"v":50},{"r":31,"t":282,"v":48},{"r":31,"t":288,"v":50},{"r":31,"t":294,"v":52},{"r":31,"t":300,"v":50},{"r":31,"t":306,"v":49},{"r":31,"t":312,"v":47},{"r":31,"t":318,"v":44},{"r":31,"t":324,"v":40},{"r":31,"t":330,"v":39},{"r":31,"t":336,"v":38},{"r":31,"t":342,"v":36},{"r":31,"t":348,"v":35},{"r":31,"t":354,"v":34},{"r":31,"t":360,"v":32},{"r":31,"t":366,"v":31},{"r":31,"t":372,"v":30},{"r":31,"t":378,"v":29},{"r":31,"t":384,"v":28},
      {"r":32,"t":186,"v":114},{"r":32,"t":192,"v":110},{"r":32,"t":198,"v":104},{"r":32,"t":204,"v":98},{"r":32,"t":210,"v":90},{"r":32,"t":216,"v":82},{"r":32,"t":222,"v":74},{"r":32,"t":228,"v":68},{"r":32,"t":234,"v":62},{"r":32,"t":240,"v":56},{"r":32,"t":246,"v":52},{"r":32,"t":252,"v":50},{"r":32,"t":258,"v":54},{"r":32,"t":264,"v":58},{"r":32,"t":270,"v":50},{"r":32,"t":276,"v":46},{"r":32,"t":282,"v":44},{"r":32,"t":288,"v":42},{"r":32,"t":294,"v":38},{"r":32,"t":300,"v":36},{"r":32,"t":306,"v":34},{"r":32,"t":312,"v":31},{"r":32,"t":318,"v":30},{"r":32,"t":324,"v":29},{"r":32,"t":330,"v":30},{"r":32,"t":336,"v":32},{"r":32,"t":342,"v":33},
      {"r":33,"t":192,"v":118},{"r":33,"t":198,"v":112},{"r":33,"t":204,"v":106},{"r":33,"t":210,"v":98},{"r":33,"t":216,"v":92},{"r":33,"t":222,"v":84},{"r":33,"t":228,"v":76},{"r":33,"t":234,"v":68},{"r":33,"t":240,"v":60},{"r":33,"t":246,"v":58},{"r":33,"t":252,"v":62},{"r":33,"t":258,"v":60},{"r":33,"t":264,"v":62},{"r":33,"t":270,"v":56},{"r":33,"t":276,"v":52},{"r":33,"t":282,"v":56},{"r":33,"t":288,"v":54},{"r":33,"t":294,"v":50},{"r":33,"t":300,"v":48},{"r":33,"t":306,"v":44},{"r":33,"t":312,"v":40},{"r":33,"t":318,"v":38},{"r":33,"t":324,"v":37},{"r":33,"t":330,"v":36},{"r":33,"t":336,"v":38},{"r":33,"t":342,"v":37},{"r":33,"t":348,"v":36},{"r":33,"t":354,"v":35},{"r":33,"t":360,"v":35},
      {"r":34,"t":198,"v":115},{"r":34,"t":204,"v":110},{"r":34,"t":210,"v":104},{"r":34,"t":216,"v":96},{"r":34,"t":222,"v":88},{"r":34,"t":228,"v":80},{"r":34,"t":234,"v":72},{"r":34,"t":240,"v":66},{"r":34,"t":246,"v":60},{"r":34,"t":252,"v":66},{"r":34,"t":258,"v":72},{"r":34,"t":264,"v":64},{"r":34,"t":270,"v":56},{"r":34,"t":276,"v":54},{"r":34,"t":282,"v":52},{"r":34,"t":288,"v":54},{"r":34,"t":294,"v":50},{"r":34,"t":300,"v":46},{"r":34,"t":306,"v":42},{"r":34,"t":312,"v":40},{"r":34,"t":318,"v":38},{"r":34,"t":324,"v":36},{"r":34,"t":330,"v":35},{"r":34,"t":336,"v":36},{"r":34,"t":342,"v":35},{"r":34,"t":348,"v":34},{"r":34,"t":354,"v":34},
      {"r":35,"t":204,"v":106},{"r":35,"t":210,"v":102},{"r":35,"t":216,"v":96},{"r":35,"t":222,"v":86},{"r":35,"t":228,"v":76},{"r":35,"t":234,"v":64},{"r":35,"t":240,"v":56},{"r":35,"t":246,"v":52},{"r":35,"t":252,"v":56},{"r":35,"t":258,"v":62},{"r":35,"t":264,"v":58},{"r":35,"t":270,"v":54},{"r":35,"t":276,"v":56},{"r":35,"t":282,"v":58},{"r":35,"t":288,"v":52},{"r":35,"t":294,"v":54},{"r":35,"t":300,"v":54},{"r":35,"t":306,"v":51},{"r":35,"t":312,"v":46},{"r":35,"t":318,"v":42},{"r":35,"t":324,"v":40},{"r":35,"t":330,"v":38},{"r":35,"t":336,"v":38},{"r":35,"t":342,"v":37},{"r":35,"t":348,"v":36},{"r":35,"t":354,"v":36},{"r":35,"t":360,"v":35},{"r":35,"t":366,"v":34},{"r":35,"t":372,"v":34},
      {"r":36,"t":210,"v":104},{"r":36,"t":216,"v":98},{"r":36,"t":222,"v":90},{"r":36,"t":228,"v":80},{"r":36,"t":234,"v":70},{"r":36,"t":240,"v":62},{"r":36,"t":246,"v":58},{"r":36,"t":252,"v":54},{"r":36,"t":258,"v":56},{"r":36,"t":264,"v":60},{"r":36,"t":270,"v":54},{"r":36,"t":276,"v":50},{"r":36,"t":282,"v":52},{"r":36,"t":288,"v":46},{"r":36,"t":294,"v":44},{"r":36,"t":300,"v":42},{"r":36,"t":306,"v":40},{"r":36,"t":312,"v":38},{"r":36,"t":318,"v":36},{"r":36,"t":324,"v":35},{"r":36,"t":330,"v":34},{"r":36,"t":336,"v":34},{"r":36,"t":342,"v":33},{"r":36,"t":348,"v":33},{"r":36,"t":354,"v":32},{"r":36,"t":360,"v":32},{"r":36,"t":366,"v":31},{"r":36,"t":372,"v":30}
    ]
  },
  "layer": [
    {
      "layer": [
        {
          "data": {"name": "runs"},
          "mark": {"type": "line", "strokeWidth": 1.8, "point": {"filled": true, "size": 14}},
          "encoding": {
            "x": {"field": "t", "type": "quantitative", "title": "Forecast lead time (hr)",
                  "scale": {"domain": [0, 384], "nice": false, "zero": false},
                  "axis": {"values": [0, 24, 48, 72, 96, 120, 144, 168, 192, 216, 240, 264, 288, 312, 336, 360, 384], "labelPadding": 3, "titlePadding": 1, "titleFontWeight": "normal", "labelFlush": false}},
            "y": {"field": "v", "type": "quantitative", "title": "VMAX (knt)",
                  "scale": {"domain": [0, 150], "nice": false},
                  "axis": {"values": [0, 20, 40, 60, 80, 100, 120, 140], "labelPadding": 4, "titlePadding": 8, "titleFontWeight": "bold"}},
            "color": {"field": "r", "type": "nominal", "legend": null,
                      "scale": {"domain": [1,2,3,4,5,6,7,8,9,10,11,12,13,14,15,16,17,18,19,20,21,22,23,24,25,26,27,28,29,30,31,32,33,34,35,36],
                                "range": ["#fa3c3c","#00dc00","#1e3cff","#00c8c8","#e6dc32","#f08228","#a000c8","#a0e632","#00a0ff","#e6af2d","#00d28c","#8200dc","#aaaaaa","#fa3c3c","#00dc00","#1e3cff","#00c8c8","#e6dc32","#f08228","#a000c8","#a0e632","#00a0ff","#e6af2d","#00d28c","#8200dc","#aaaaaa","#fa3c3c","#00dc00","#1e3cff","#00c8c8","#e6dc32","#f08228","#a000c8","#a0e632","#00a0ff","#e6af2d"]}}
          }
        },
        {
          "data": {"name": "cats"},
          "mark": {"type": "rule", "color": "#222222", "strokeWidth": 1.3, "strokeDash": [4, 2]},
          "encoding": {"y": {"field": "v", "type": "quantitative", "title": "VMAX (knt)"}}
        },
        {
          "data": {"name": "cats"},
          "mark": {"type": "text", "align": "left", "baseline": "middle", "dx": 7, "font": "DejaVu Sans Mono", "fontWeight": "bold", "fontSize": 14, "color": "black"},
          "encoding": {
            "x": {"datum": 384, "type": "quantitative", "title": "Forecast lead time (hr)"},
            "y": {"field": "v", "type": "quantitative", "title": "VMAX (knt)"},
            "text": {"field": "c"}
          }
        },
        {
          "data": {"name": "best"},
          "mark": {"type": "line", "color": "black", "strokeWidth": 2},
          "encoding": {
            "x": {"field": "t", "type": "quantitative", "title": "Forecast lead time (hr)"},
            "y": {"field": "v", "type": "quantitative", "title": "VMAX (knt)"}
          }
        },
        {
          "data": {"name": "best"},
          "transform": [{"filter": "datum.t > 0"}],
          "mark": {"type": "text", "text": "6", "dy": -2.5, "align": "center", "baseline": "middle", "font": "DejaVu Sans", "fontWeight": "bold", "fontSize": 19, "color": "black"},
          "encoding": {
            "x": {"field": "t", "type": "quantitative", "title": "Forecast lead time (hr)"},
            "y": {"field": "v", "type": "quantitative", "title": "VMAX (knt)"}
          }
        },
        {
          "data": {"name": "best"},
          "transform": [{"filter": "datum.t > 0"}],
          "mark": {"type": "text", "text": "9", "dy": 2.5, "align": "center", "baseline": "middle", "font": "DejaVu Sans", "fontWeight": "bold", "fontSize": 19, "color": "black"},
          "encoding": {
            "x": {"field": "t", "type": "quantitative", "title": "Forecast lead time (hr)"},
            "y": {"field": "v", "type": "quantitative", "title": "VMAX (knt)"}
          }
        }
      ]
    },
    {
      "data": {"name": "members"},
      "encoding": {
        "y": {"field": "r", "type": "quantitative", "axis": null,
              "scale": {"domain": [0.5997, 32.065], "reverse": true, "nice": false, "zero": false}},
        "color": {"field": "r", "type": "nominal", "legend": null,
                  "scale": {"domain": [1,2,3,4,5,6,7,8,9,10,11,12,13,14,15,16,17,18,19,20,21,22,23,24,25,26,27,28,29,30,31,32,33,34,35,36],
                            "range": ["#fa3c3c","#00dc00","#1e3cff","#00c8c8","#e6dc32","#f08228","#a000c8","#a0e632","#00a0ff","#e6af2d","#00d28c","#8200dc","#aaaaaa","#fa3c3c","#00dc00","#1e3cff","#00c8c8","#e6dc32","#f08228","#a000c8","#a0e632","#00a0ff","#e6af2d","#00d28c","#8200dc","#aaaaaa","#fa3c3c","#00dc00","#1e3cff","#00c8c8","#e6dc32","#f08228","#a000c8","#a0e632","#00a0ff","#e6af2d"]}}
      },
      "layer": [
        {
          "mark": {"type": "text", "align": "right", "baseline": "middle", "font": "DejaVu Sans Mono", "fontSize": 17},
          "encoding": {"x": {"datum": 346.6, "type": "quantitative", "title": "Forecast lead time (hr)"}, "text": {"field": "r"}}
        },
        {
          "mark": {"type": "text", "align": "left", "baseline": "middle", "font": "DejaVu Sans Mono", "fontSize": 17},
          "encoding": {"x": {"datum": 351.8, "type": "quantitative", "title": "Forecast lead time (hr)"}, "text": {"field": "d"}}
        }
      ]
    }
  ],
  "resolve": {"scale": {"y": "independent"}}
}
